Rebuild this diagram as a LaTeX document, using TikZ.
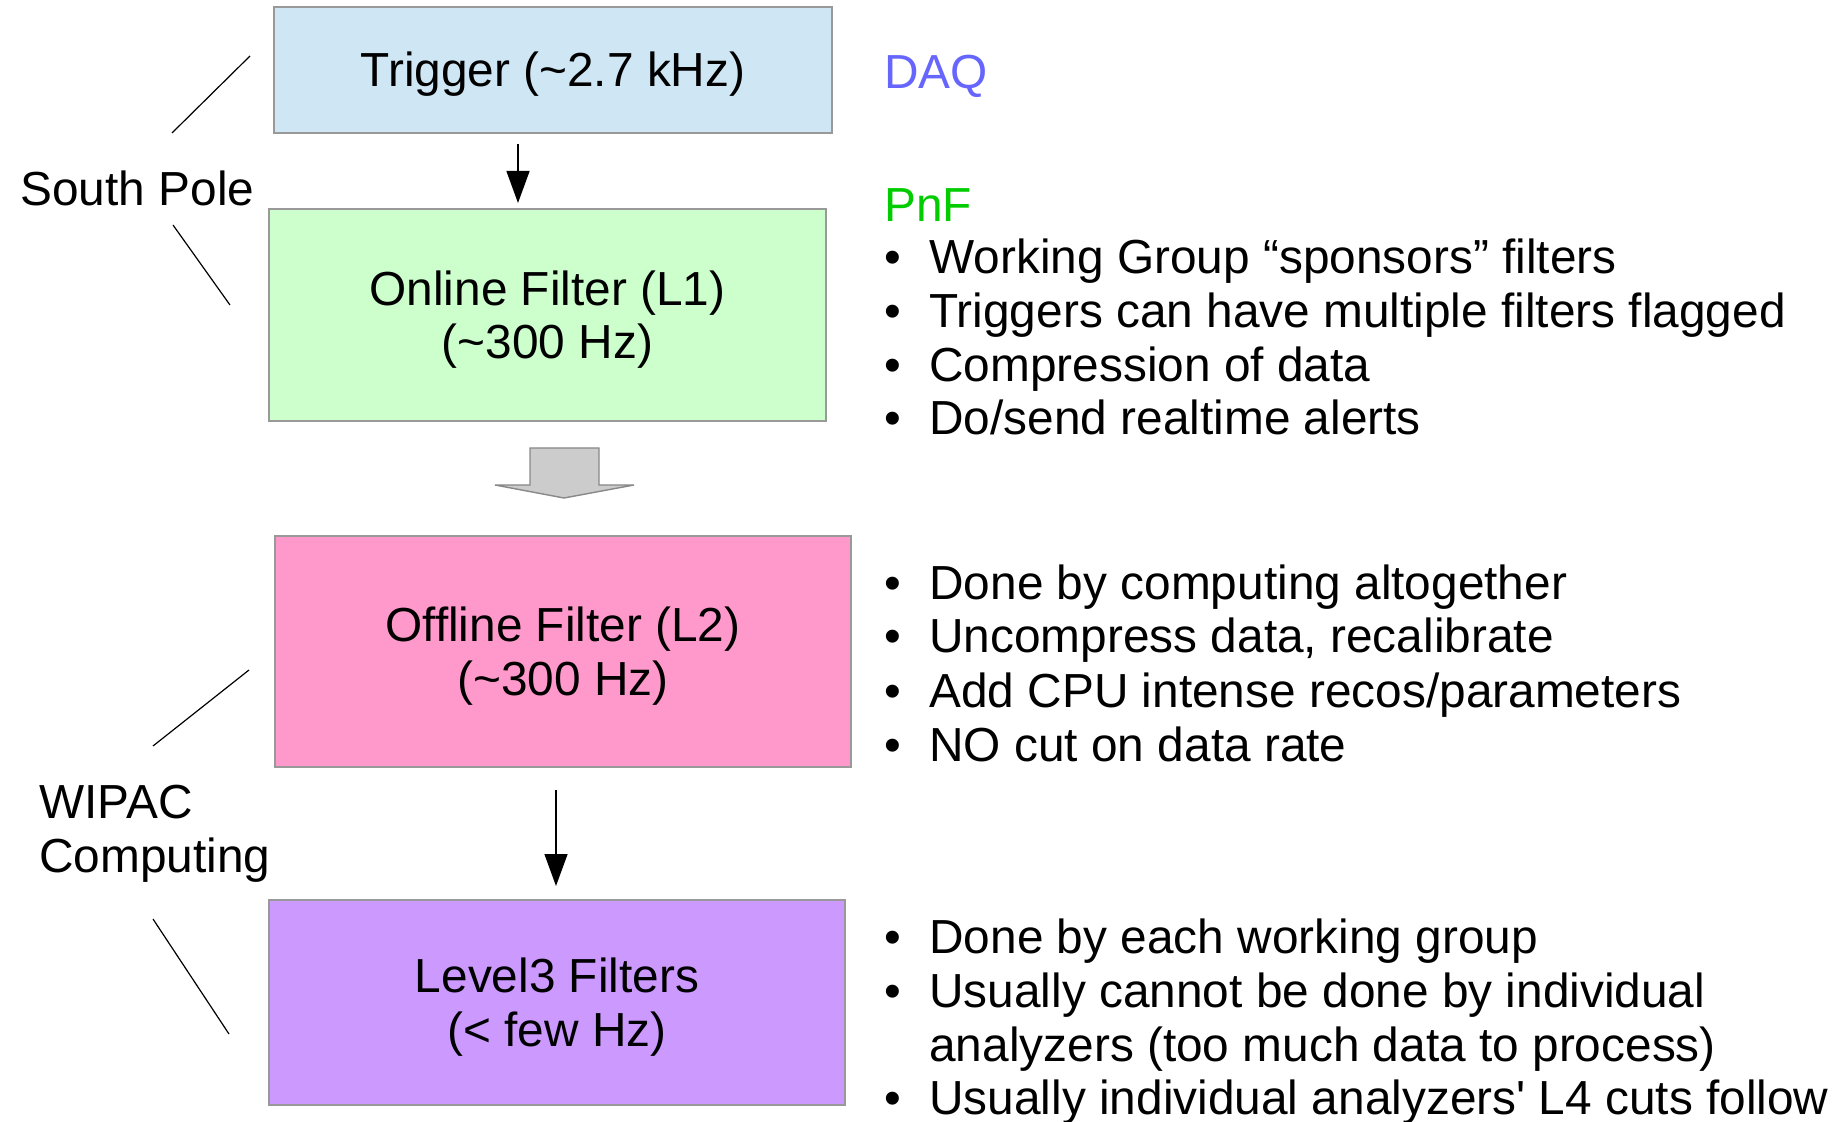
\documentclass[tikz,border=0pt]{standalone}
\usepackage{fontspec}
\newfontfamily\arial{Liberation Sans}
\usetikzlibrary{arrows.meta}
\definecolor{trigfill}{HTML}{CFE7F5}
\definecolor{onfill}{HTML}{CCFFCC}
\definecolor{offfill}{HTML}{FF99CC}
\definecolor{lthreefill}{HTML}{CC99FF}
\definecolor{boxline}{HTML}{999999}
\definecolor{grayfill}{HTML}{CCCCCC}
\definecolor{grayline}{HTML}{888888}
\definecolor{daqcol}{HTML}{6666FF}
\definecolor{pnfcol}{HTML}{00CC00}
\begin{document}
\begin{tikzpicture}[x=0.5pt,y=-0.5pt,
  font=\arial\fontsize{23.9}{26.8}\selectfont,
  box/.style={draw=boxline,line width=1pt,inner sep=0pt},
  boxtxt/.style={inner sep=0pt,align=center},
  txt/.style={anchor=base west,inner sep=0pt},
  bul/.style={anchor=base,inner sep=0pt},
  thinline/.style={line width=0.6pt},
  arr/.style={line width=0.7pt,-{Triangle[length=16pt,width=11.5pt]}}]
\useasboundingbox (0,0) rectangle (1836,1122);
% boxes
\node[box,fill=trigfill,minimum width=279pt,minimum height=63pt] (trig) at (553,70) {};
\node[boxtxt] (trigt) at ([yshift=-2pt]trig.center) {Trigger (\textasciitilde2.7 kHz)};
\node[box,fill=onfill,minimum width=278.5pt,minimum height=106pt] (online) at (547.5,315) {};
\node[boxtxt] (onlinet) at ([yshift=-2.4pt]online.center) {Online Filter (L1)\\(\textasciitilde300 Hz)};
\node[box,fill=offfill,minimum width=288pt,minimum height=115.5pt] (offline) at (563,651.5) {};
\node[boxtxt] (offlinet) at ([yshift=-2.4pt]offline.center) {Offline Filter (L2)\\(\textasciitilde300 Hz)};
\node[box,fill=lthreefill,minimum width=288pt,minimum height=102.5pt] (lthree) at (557,1002.5) {};
\node[boxtxt] (lthreet) at ([yshift=-2.4pt]lthree.center) {Level3 Filters\\(< few Hz)};
% arrows
\coordinate (a1s) at (518,144);
\coordinate (a1e) at (518,203);
\draw[arr] (a1s) -- (a1e);
\coordinate (a2s) at (556,790);
\coordinate (a2e) at (556,886);
\draw[arr] (a2s) -- (a2e);
% gray block arrow
\draw[grayline,fill=grayfill,line width=0.7pt,line join=miter]
  (530,448) -- (599,448) -- (599,485) -- (634,485) -- (564,498) -- (495,485) -- (530,485) -- cycle;
% left labels
\node[txt] (sp) at (20,206) {South Pole};
\draw[thinline] (250,56) -- (172,133);
\draw[thinline] (173,225) -- (230,305);
\node[txt] (wipac1) at (39,818) {WIPAC};
\node[txt] (wipac2) at (39,872) {Computing};
\draw[thinline] (249,670) -- (153,746);
\draw[thinline] (153,919) -- (229,1034);
% right labels
\node[txt,text=daqcol] (daq) at (884,89) {DAQ};
\node[txt,text=pnfcol] (pnf) at (884,222) {PnF};
% list 1
\foreach \y/\t [count=\i] in {274/{Working Group “sponsors” filters},328/{Triggers can have multiple filters flagged},382/{Compression of data},435/{Do/send realtime alerts}}{
  \node[bul] (ba\i) at (893,\y) {•};
  \node[txt] (ta\i) at (929,\y) {\t};
}
% list 2
\foreach \y/\t [count=\i] in {599/{Done by computing altogether},653/{Uncompress data, recalibrate},707/{Add CPU intense recos/parameters},761/{NO cut on data rate}}{
  \node[bul] (bb\i) at (893,\y) {•};
  \node[txt] (tb\i) at (929,\y) {\t};
}
% list 3
\node[bul] (bc1) at (893,953) {•};
\node[txt] (tc1) at (929,953) {Done by each working group};
\node[bul] (bc2) at (893,1007) {•};
\node[txt] (tc2) at (929,1007) {Usually cannot be done by individual};
\node[txt] (tc3) at (929,1061) {analyzers (too much data to process)};
\node[bul] (bc4) at (893,1114) {•};
\node[txt] (tc4) at (929,1114) {Usually individual analyzers' L4 cuts follow};
\end{tikzpicture}
\end{document}
